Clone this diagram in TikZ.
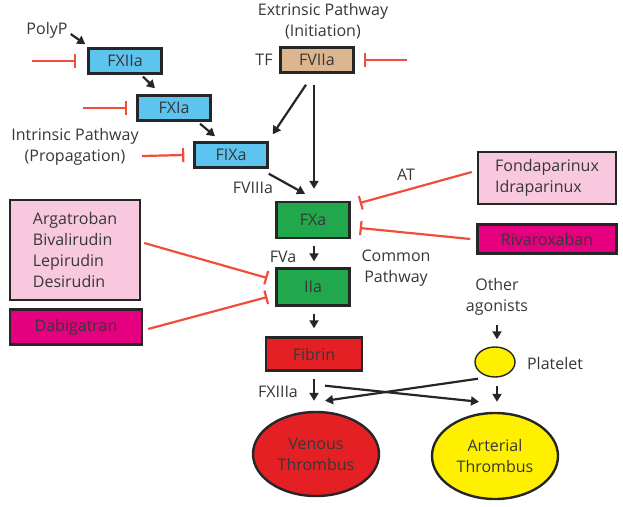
\documentclass[tikz,border=0pt]{standalone}
\usepackage{fontspec}
\setmainfont{Open Sans}
\usetikzlibrary{arrows.meta,shapes.geometric}
\definecolor{cblue}{RGB}{92,196,238}
\definecolor{ctan}{RGB}{220,182,142}
\definecolor{cgreen}{RGB}{34,168,76}
\definecolor{cpink}{RGB}{248,200,222}
\definecolor{cmag}{RGB}{228,0,126}
\definecolor{cred}{RGB}{228,32,36}
\definecolor{cyel}{RGB}{255,240,0}
\definecolor{inhred}{RGB}{240,78,58}
\definecolor{tgray}{RGB}{55,55,55}
\tikzset{
  every node/.style={font=\fontsize{16}{21}\selectfont, text=tgray, inner sep=0pt},
  box/.style={draw=black!85, line width=2.4pt, minimum width=73pt, minimum height=25pt},
  lbl/.style={align=center},
  act/.style={draw=black!85, line width=2.2pt, -{Triangle[length=8pt,width=9pt]}},
  inh/.style={draw=inhred, line width=2.2pt, -{Bar[width=14pt,line width=2.2pt]}},
}
\begin{document}
\begin{tikzpicture}[x=1pt,y=-1pt]
\useasboundingbox (0,0) rectangle (623,506);
% boxes
\node[box, fill=cblue] (fxiia) at (125,61) {FXIIa};
\node[box, fill=cblue] (fxia) at (174,108) {FXIa};
\node[box, fill=cblue] (fixa) at (231,155) {FIXa};
\node[box, fill=ctan] (fviia) at (317,60) {FVIIa};
\node[box, fill=cgreen, minimum height=36pt] (fxa) at (313,220) {FXa};
\node[box, fill=cgreen, minimum height=37pt] (iia) at (313,287) {IIa};
\node[box, fill=cred, minimum width=96pt, minimum height=33pt] (fib) at (314,354) {Fibrin};
\node[box, fill=cpink, minimum width=138pt, minimum height=52pt, align=left] (fonda) at (547,178) {Fondaparinux\\Idraparinux};
\node[box, fill=cmag, minimum width=139pt, minimum height=29pt] (riva) at (547,239) {Rivaroxaban};
\node[box, fill=cpink, minimum width=130pt, minimum height=100pt, align=left] (arga) at (75,250) {Argatroban\\Bivalirudin\\Lepirudin\\Desirudin};
\node[box, fill=cmag, minimum width=132pt, minimum height=35pt] (dabi) at (76,327) {Dabigatran};
\node[draw=black!85, line width=1.4pt, fill=cyel, ellipse, minimum width=40pt, minimum height=30pt] (plt) at (495,362) {};
\node[draw=black!85, line width=2.4pt, fill=cred, ellipse, minimum width=126pt, minimum height=84pt, align=center] (ven) at (316,454) {Venous\\Thrombus};
\node[draw=black!85, line width=2.4pt, fill=cyel, ellipse, minimum width=126pt, minimum height=86pt, align=center] (art) at (495,456) {Arterial\\Thrombus};
% labels
\node[lbl] (ext) at (323,21) {Extrinsic Pathway\\(Initiation)};
\node (tf) at (264,60) {TF};
\node[lbl] (intr) at (75,147) {Intrinsic Pathway\\(Propagation)};
\node (polyp) at (47,30) {PolyP};
\node (fviiia) at (253,188) {FVIIIa};
\node (at) at (406,175) {AT};
\node (fva) at (283,257) {FVa};
\node[lbl] (comm) at (396,268) {Common\\Pathway};
\node[lbl] (oth) at (497,297) {Other\\agonists};
\node (pltl) at (555,363) {Platelet};
\node (fxiiia) at (278,392) {FXIIIa};
% free ends of inhibitors
\coordinate (i1) at (32,61);
\coordinate (i2) at (83,108);
\coordinate (i3) at (142,156);
\coordinate (i4) at (407,60);
% activation arrows
\draw[act] (polyp.east) ++(3pt,-4pt) -- ([shift={(-2pt,3pt)}]fxiia.north west);
\draw[act] ([shift={(18pt,-2pt)}]fxiia.south) -- ([shift={(-19pt,6pt)}]fxia.north);
\draw[act] ([shift={(26pt,-2pt)}]fxia.south) -- ([shift={(-16pt,5pt)}]fixa.north);
\draw[act] ([shift={(-11pt,-11pt)}]fviia.south) -- ([shift={(4pt,7pt)}]fixa.north east);
\draw[act] ([shift={(-3pt,-11pt)}]fviia.south) -- ([shift={(1pt,12pt)}]fxa.north);
\draw[act] ([shift={(0pt,-5pt)}]fixa.south east) -- ([shift={(-8pt,7pt)}]fxa.north);
\draw[act] ([shift={(1pt,-7pt)}]fxa.south) -- ([shift={(1pt,6pt)}]iia.north);
\draw[act] ([shift={(1pt,-7pt)}]iia.south) -- ([shift={(0pt,8pt)}]fib.north);
\draw[act] ([shift={(0pt,-9pt)}]oth.south) -- ([shift={(2pt,7pt)}]plt.north);
\draw[act] ([shift={(0pt,-7pt)}]fib.south) -- ([shift={(-2pt,10pt)}]ven.north);
\draw[act] ([shift={(2pt,-8pt)}]plt.south) -- ([shift={(2pt,10pt)}]art.north);
\draw[act] ([shift={(-17pt,-1pt)}]plt.south) -- ([shift={(9pt,10pt)}]ven.north);
\draw[act] ([shift={(11pt,-14pt)}]fib.south) -- ([shift={(-16pt,10pt)}]art.north);
% inhibitors
\draw[inh] (i1) -- ([xshift=-11pt]fxiia.west);
\draw[inh] (i2) -- ([xshift=-9pt]fxia.west);
\draw[inh] (i3) -- ([xshift=-9pt]fixa.west);
\draw[inh] (i4) -- ([xshift=9pt]fviia.east);
\draw[inh] ([shift={(-5pt,6pt)}]fonda.west) -- ([shift={(9pt,17pt)}]fxa.east);
\draw[inh] ([shift={(-6pt,0pt)}]riva.west) -- ([shift={(9pt,-8pt)}]fxa.east);
\draw[inh] ([shift={(3pt,7pt)}]arga.east) -- ([shift={(-8pt,9pt)}]iia.west);
\draw[inh] ([shift={(5pt,-2pt)}]dabi.east) -- ([shift={(-8pt,-10pt)}]iia.west);
\end{tikzpicture}
\end{document}
